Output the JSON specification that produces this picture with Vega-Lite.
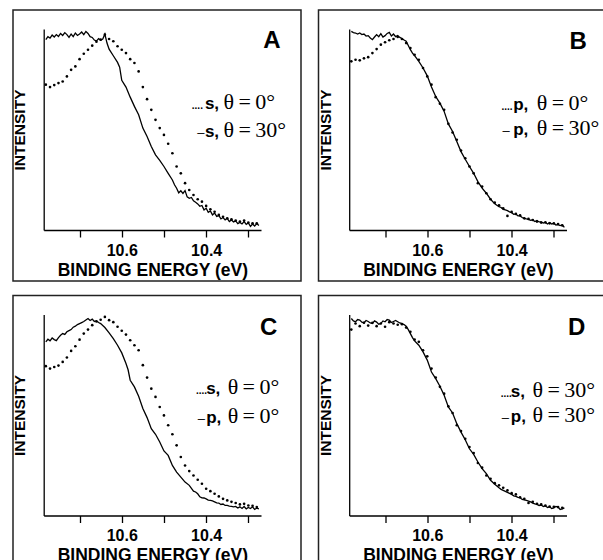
{
 "$schema": "https://vega.github.io/schema/vega-lite/v6.json",
 "padding": {"left": 11, "top": 9, "right": 0, "bottom": 0},
 "background": "white",
 "datasets": {
  "curves": [
   {"p":"A","s":"line","E":10.78,"I":0.947},{"p":"A","s":"line","E":10.775,"I":0.962},{"p":"A","s":"line","E":10.77,"I":0.955},{"p":"A","s":"line","E":10.765,"I":0.970},{"p":"A","s":"line","E":10.76,"I":0.960},{"p":"A","s":"line","E":10.755,"I":0.972},{"p":"A","s":"line","E":10.75,"I":0.963},{"p":"A","s":"line","E":10.745,"I":0.978},{"p":"A","s":"line","E":10.74,"I":0.968},{"p":"A","s":"line","E":10.735,"I":0.982},{"p":"A","s":"line","E":10.73,"I":0.972},{"p":"A","s":"line","E":10.725,"I":0.958},{"p":"A","s":"line","E":10.72,"I":0.975},{"p":"A","s":"line","E":10.715,"I":0.962},{"p":"A","s":"line","E":10.71,"I":0.980},{"p":"A","s":"line","E":10.705,"I":0.968},{"p":"A","s":"line","E":10.70,"I":0.975},{"p":"A","s":"line","E":10.695,"I":0.985},{"p":"A","s":"line","E":10.69,"I":0.972},{"p":"A","s":"line","E":10.685,"I":0.988},{"p":"A","s":"line","E":10.68,"I":0.978},{"p":"A","s":"line","E":10.675,"I":0.962},{"p":"A","s":"line","E":10.67,"I":0.958},{"p":"A","s":"line","E":10.665,"I":0.945},{"p":"A","s":"line","E":10.66,"I":0.940},{"p":"A","s":"line","E":10.655,"I":0.952},{"p":"A","s":"line","E":10.65,"I":0.944},{"p":"A","s":"line","E":10.645,"I":0.950},{"p":"A","s":"line","E":10.64,"I":0.975},{"p":"A","s":"line","E":10.635,"I":0.930},{"p":"A","s":"line","E":10.63,"I":0.900},{"p":"A","s":"line","E":10.62,"I":0.867},{"p":"A","s":"line","E":10.61,"I":0.834},{"p":"A","s":"line","E":10.605,"I":0.810},{"p":"A","s":"line","E":10.60,"I":0.745},{"p":"A","s":"line","E":10.59,"I":0.711},{"p":"A","s":"line","E":10.58,"I":0.661},{"p":"A","s":"line","E":10.57,"I":0.615},{"p":"A","s":"line","E":10.56,"I":0.573},{"p":"A","s":"line","E":10.55,"I":0.507},{"p":"A","s":"line","E":10.54,"I":0.465},{"p":"A","s":"line","E":10.53,"I":0.415},{"p":"A","s":"line","E":10.52,"I":0.374},{"p":"A","s":"line","E":10.51,"I":0.346},{"p":"A","s":"line","E":10.50,"I":0.316},{"p":"A","s":"line","E":10.49,"I":0.282},{"p":"A","s":"line","E":10.48,"I":0.249},{"p":"A","s":"line","E":10.475,"I":0.225},{"p":"A","s":"line","E":10.47,"I":0.208},{"p":"A","s":"line","E":10.465,"I":0.185},{"p":"A","s":"line","E":10.46,"I":0.195},{"p":"A","s":"line","E":10.455,"I":0.182},{"p":"A","s":"line","E":10.45,"I":0.196},{"p":"A","s":"line","E":10.445,"I":0.165},{"p":"A","s":"line","E":10.44,"I":0.158},{"p":"A","s":"line","E":10.435,"I":0.162},{"p":"A","s":"line","E":10.43,"I":0.145},{"p":"A","s":"line","E":10.425,"I":0.138},{"p":"A","s":"line","E":10.42,"I":0.130},{"p":"A","s":"line","E":10.415,"I":0.118},{"p":"A","s":"line","E":10.41,"I":0.122},{"p":"A","s":"line","E":10.405,"I":0.100},{"p":"A","s":"line","E":10.40,"I":0.108},{"p":"A","s":"line","E":10.395,"I":0.088},{"p":"A","s":"line","E":10.39,"I":0.095},{"p":"A","s":"line","E":10.385,"I":0.075},{"p":"A","s":"line","E":10.38,"I":0.085},{"p":"A","s":"line","E":10.375,"I":0.068},{"p":"A","s":"line","E":10.37,"I":0.072},{"p":"A","s":"line","E":10.365,"I":0.055},{"p":"A","s":"line","E":10.36,"I":0.062},{"p":"A","s":"line","E":10.355,"I":0.050},{"p":"A","s":"line","E":10.35,"I":0.058},{"p":"A","s":"line","E":10.345,"I":0.042},{"p":"A","s":"line","E":10.34,"I":0.050},{"p":"A","s":"line","E":10.335,"I":0.040},{"p":"A","s":"line","E":10.33,"I":0.045},{"p":"A","s":"line","E":10.325,"I":0.032},{"p":"A","s":"line","E":10.32,"I":0.038},{"p":"A","s":"line","E":10.315,"I":0.030},{"p":"A","s":"line","E":10.31,"I":0.042},{"p":"A","s":"line","E":10.305,"I":0.028},{"p":"A","s":"line","E":10.30,"I":0.035},{"p":"A","s":"line","E":10.295,"I":0.018},{"p":"A","s":"line","E":10.29,"I":0.030},{"p":"A","s":"line","E":10.285,"I":0.020},{"p":"A","s":"line","E":10.28,"I":0.032},{"p":"A","s":"line","E":10.275,"I":0.022},
   {"p":"A","s":"dot","E":10.78,"I":0.723},{"p":"A","s":"dot","E":10.77,"I":0.711},{"p":"A","s":"dot","E":10.76,"I":0.721},{"p":"A","s":"dot","E":10.75,"I":0.731},{"p":"A","s":"dot","E":10.74,"I":0.739},{"p":"A","s":"dot","E":10.73,"I":0.764},{"p":"A","s":"dot","E":10.72,"I":0.797},{"p":"A","s":"dot","E":10.71,"I":0.814},{"p":"A","s":"dot","E":10.70,"I":0.850},{"p":"A","s":"dot","E":10.69,"I":0.877},{"p":"A","s":"dot","E":10.68,"I":0.897},{"p":"A","s":"dot","E":10.67,"I":0.917},{"p":"A","s":"dot","E":10.66,"I":0.937},{"p":"A","s":"dot","E":10.65,"I":0.947},{"p":"A","s":"dot","E":10.64,"I":0.972},{"p":"A","s":"dot","E":10.63,"I":0.950},{"p":"A","s":"dot","E":10.62,"I":0.939},{"p":"A","s":"dot","E":10.61,"I":0.914},{"p":"A","s":"dot","E":10.60,"I":0.897},{"p":"A","s":"dot","E":10.59,"I":0.880},{"p":"A","s":"dot","E":10.58,"I":0.850},{"p":"A","s":"dot","E":10.57,"I":0.831},{"p":"A","s":"dot","E":10.56,"I":0.789},{"p":"A","s":"dot","E":10.55,"I":0.711},{"p":"A","s":"dot","E":10.54,"I":0.651},{"p":"A","s":"dot","E":10.53,"I":0.598},{"p":"A","s":"dot","E":10.52,"I":0.548},{"p":"A","s":"dot","E":10.51,"I":0.507},{"p":"A","s":"dot","E":10.50,"I":0.473},{"p":"A","s":"dot","E":10.49,"I":0.429},{"p":"A","s":"dot","E":10.48,"I":0.382},{"p":"A","s":"dot","E":10.47,"I":0.316},{"p":"A","s":"dot","E":10.46,"I":0.282},{"p":"A","s":"dot","E":10.45,"I":0.233},{"p":"A","s":"dot","E":10.44,"I":0.199},{"p":"A","s":"dot","E":10.43,"I":0.174},{"p":"A","s":"dot","E":10.42,"I":0.153},{"p":"A","s":"dot","E":10.41,"I":0.141},{"p":"A","s":"dot","E":10.40,"I":0.120},{"p":"A","s":"dot","E":10.39,"I":0.103},{"p":"A","s":"dot","E":10.38,"I":0.091},{"p":"A","s":"dot","E":10.37,"I":0.075},{"p":"A","s":"dot","E":10.36,"I":0.066},{"p":"A","s":"dot","E":10.35,"I":0.058},{"p":"A","s":"dot","E":10.34,"I":0.053},{"p":"A","s":"dot","E":10.33,"I":0.047},{"p":"A","s":"dot","E":10.32,"I":0.042},{"p":"A","s":"dot","E":10.31,"I":0.047},{"p":"A","s":"dot","E":10.30,"I":0.037},{"p":"A","s":"dot","E":10.29,"I":0.033},{"p":"A","s":"dot","E":10.28,"I":0.033},
   {"p":"B","s":"line","E":10.78,"I":0.988},{"p":"B","s":"line","E":10.775,"I":0.982},{"p":"B","s":"line","E":10.77,"I":0.980},{"p":"B","s":"line","E":10.765,"I":0.975},{"p":"B","s":"line","E":10.76,"I":0.980},{"p":"B","s":"line","E":10.755,"I":0.972},{"p":"B","s":"line","E":10.75,"I":0.975},{"p":"B","s":"line","E":10.745,"I":0.965},{"p":"B","s":"line","E":10.74,"I":0.967},{"p":"B","s":"line","E":10.735,"I":0.955},{"p":"B","s":"line","E":10.73,"I":0.947},{"p":"B","s":"line","E":10.725,"I":0.960},{"p":"B","s":"line","E":10.72,"I":0.972},{"p":"B","s":"line","E":10.715,"I":0.962},{"p":"B","s":"line","E":10.71,"I":0.977},{"p":"B","s":"line","E":10.705,"I":0.960},{"p":"B","s":"line","E":10.70,"I":0.967},{"p":"B","s":"line","E":10.695,"I":0.978},{"p":"B","s":"line","E":10.69,"I":0.983},{"p":"B","s":"line","E":10.685,"I":0.965},{"p":"B","s":"line","E":10.68,"I":0.975},{"p":"B","s":"line","E":10.675,"I":0.962},{"p":"B","s":"line","E":10.67,"I":0.967},{"p":"B","s":"line","E":10.665,"I":0.958},{"p":"B","s":"line","E":10.66,"I":0.953},{"p":"B","s":"line","E":10.655,"I":0.945},{"p":"B","s":"line","E":10.65,"I":0.939},{"p":"B","s":"line","E":10.645,"I":0.918},{"p":"B","s":"line","E":10.64,"I":0.897},{"p":"B","s":"line","E":10.635,"I":0.880},{"p":"B","s":"line","E":10.63,"I":0.867},{"p":"B","s":"line","E":10.62,"I":0.839},{"p":"B","s":"line","E":10.61,"I":0.806},{"p":"B","s":"line","E":10.60,"I":0.767},{"p":"B","s":"line","E":10.59,"I":0.711},{"p":"B","s":"line","E":10.58,"I":0.664},{"p":"B","s":"line","E":10.57,"I":0.631},{"p":"B","s":"line","E":10.56,"I":0.590},{"p":"B","s":"line","E":10.55,"I":0.528},{"p":"B","s":"line","E":10.54,"I":0.490},{"p":"B","s":"line","E":10.53,"I":0.440},{"p":"B","s":"line","E":10.52,"I":0.390},{"p":"B","s":"line","E":10.51,"I":0.352},{"p":"B","s":"line","E":10.50,"I":0.316},{"p":"B","s":"line","E":10.49,"I":0.282},{"p":"B","s":"line","E":10.48,"I":0.241},{"p":"B","s":"line","E":10.47,"I":0.208},{"p":"B","s":"line","E":10.46,"I":0.183},{"p":"B","s":"line","E":10.45,"I":0.153},{"p":"B","s":"line","E":10.44,"I":0.130},{"p":"B","s":"line","E":10.43,"I":0.116},{"p":"B","s":"line","E":10.425,"I":0.112},{"p":"B","s":"line","E":10.42,"I":0.103},{"p":"B","s":"line","E":10.415,"I":0.100},{"p":"B","s":"line","E":10.41,"I":0.096},{"p":"B","s":"line","E":10.405,"I":0.090},{"p":"B","s":"line","E":10.40,"I":0.086},{"p":"B","s":"line","E":10.395,"I":0.078},{"p":"B","s":"line","E":10.39,"I":0.080},{"p":"B","s":"line","E":10.385,"I":0.070},{"p":"B","s":"line","E":10.38,"I":0.070},{"p":"B","s":"line","E":10.375,"I":0.062},{"p":"B","s":"line","E":10.37,"I":0.058},{"p":"B","s":"line","E":10.365,"I":0.055},{"p":"B","s":"line","E":10.36,"I":0.053},{"p":"B","s":"line","E":10.355,"I":0.048},{"p":"B","s":"line","E":10.35,"I":0.050},{"p":"B","s":"line","E":10.345,"I":0.042},{"p":"B","s":"line","E":10.34,"I":0.047},{"p":"B","s":"line","E":10.335,"I":0.040},{"p":"B","s":"line","E":10.33,"I":0.040},{"p":"B","s":"line","E":10.325,"I":0.035},{"p":"B","s":"line","E":10.32,"I":0.038},{"p":"B","s":"line","E":10.315,"I":0.030},{"p":"B","s":"line","E":10.31,"I":0.037},{"p":"B","s":"line","E":10.305,"I":0.030},{"p":"B","s":"line","E":10.30,"I":0.033},{"p":"B","s":"line","E":10.295,"I":0.025},{"p":"B","s":"line","E":10.29,"I":0.027},{"p":"B","s":"line","E":10.285,"I":0.022},{"p":"B","s":"line","E":10.28,"I":0.025},{"p":"B","s":"line","E":10.275,"I":0.013},
   {"p":"B","s":"dot","E":10.78,"I":0.839},{"p":"B","s":"dot","E":10.77,"I":0.847},{"p":"B","s":"dot","E":10.76,"I":0.844},{"p":"B","s":"dot","E":10.75,"I":0.854},{"p":"B","s":"dot","E":10.74,"I":0.860},{"p":"B","s":"dot","E":10.73,"I":0.880},{"p":"B","s":"dot","E":10.72,"I":0.900},{"p":"B","s":"dot","E":10.71,"I":0.922},{"p":"B","s":"dot","E":10.70,"I":0.934},{"p":"B","s":"dot","E":10.69,"I":0.944},{"p":"B","s":"dot","E":10.68,"I":0.950},{"p":"B","s":"dot","E":10.67,"I":0.960},{"p":"B","s":"dot","E":10.66,"I":0.950},{"p":"B","s":"dot","E":10.65,"I":0.930},{"p":"B","s":"dot","E":10.64,"I":0.905},{"p":"B","s":"dot","E":10.63,"I":0.872},{"p":"B","s":"dot","E":10.62,"I":0.847},{"p":"B","s":"dot","E":10.61,"I":0.806},{"p":"B","s":"dot","E":10.60,"I":0.764},{"p":"B","s":"dot","E":10.59,"I":0.723},{"p":"B","s":"dot","E":10.58,"I":0.661},{"p":"B","s":"dot","E":10.57,"I":0.628},{"p":"B","s":"dot","E":10.56,"I":0.598},{"p":"B","s":"dot","E":10.55,"I":0.528},{"p":"B","s":"dot","E":10.54,"I":0.485},{"p":"B","s":"dot","E":10.53,"I":0.449},{"p":"B","s":"dot","E":10.52,"I":0.395},{"p":"B","s":"dot","E":10.51,"I":0.357},{"p":"B","s":"dot","E":10.50,"I":0.316},{"p":"B","s":"dot","E":10.49,"I":0.282},{"p":"B","s":"dot","E":10.48,"I":0.233},{"p":"B","s":"dot","E":10.47,"I":0.216},{"p":"B","s":"dot","E":10.46,"I":0.183},{"p":"B","s":"dot","E":10.45,"I":0.153},{"p":"B","s":"dot","E":10.44,"I":0.136},{"p":"B","s":"dot","E":10.43,"I":0.123},{"p":"B","s":"dot","E":10.42,"I":0.108},{"p":"B","s":"dot","E":10.41,"I":0.070},{"p":"B","s":"dot","E":10.40,"I":0.090},{"p":"B","s":"dot","E":10.39,"I":0.080},{"p":"B","s":"dot","E":10.38,"I":0.073},{"p":"B","s":"dot","E":10.37,"I":0.058},{"p":"B","s":"dot","E":10.36,"I":0.055},{"p":"B","s":"dot","E":10.35,"I":0.050},{"p":"B","s":"dot","E":10.34,"I":0.042},{"p":"B","s":"dot","E":10.33,"I":0.037},{"p":"B","s":"dot","E":10.32,"I":0.038},{"p":"B","s":"dot","E":10.31,"I":0.033},{"p":"B","s":"dot","E":10.30,"I":0.033},{"p":"B","s":"dot","E":10.29,"I":0.030},{"p":"B","s":"dot","E":10.28,"I":0.023},
   {"p":"C","s":"line","E":10.78,"I":0.864},{"p":"C","s":"line","E":10.775,"I":0.877},{"p":"C","s":"line","E":10.77,"I":0.869},{"p":"C","s":"line","E":10.765,"I":0.883},{"p":"C","s":"line","E":10.76,"I":0.875},{"p":"C","s":"line","E":10.755,"I":0.870},{"p":"C","s":"line","E":10.75,"I":0.885},{"p":"C","s":"line","E":10.745,"I":0.897},{"p":"C","s":"line","E":10.74,"I":0.905},{"p":"C","s":"line","E":10.735,"I":0.901},{"p":"C","s":"line","E":10.73,"I":0.914},{"p":"C","s":"line","E":10.725,"I":0.920},{"p":"C","s":"line","E":10.72,"I":0.925},{"p":"C","s":"line","E":10.715,"I":0.937},{"p":"C","s":"line","E":10.71,"I":0.942},{"p":"C","s":"line","E":10.705,"I":0.950},{"p":"C","s":"line","E":10.70,"I":0.955},{"p":"C","s":"line","E":10.695,"I":0.960},{"p":"C","s":"line","E":10.69,"I":0.965},{"p":"C","s":"line","E":10.685,"I":0.973},{"p":"C","s":"line","E":10.68,"I":0.980},{"p":"C","s":"line","E":10.675,"I":0.970},{"p":"C","s":"line","E":10.67,"I":0.977},{"p":"C","s":"line","E":10.665,"I":0.965},{"p":"C","s":"line","E":10.66,"I":0.969},{"p":"C","s":"line","E":10.655,"I":0.960},{"p":"C","s":"line","E":10.65,"I":0.955},{"p":"C","s":"line","E":10.64,"I":0.935},{"p":"C","s":"line","E":10.63,"I":0.909},{"p":"C","s":"line","E":10.62,"I":0.880},{"p":"C","s":"line","E":10.61,"I":0.847},{"p":"C","s":"line","E":10.60,"I":0.809},{"p":"C","s":"line","E":10.59,"I":0.756},{"p":"C","s":"line","E":10.585,"I":0.725},{"p":"C","s":"line","E":10.58,"I":0.673},{"p":"C","s":"line","E":10.57,"I":0.640},{"p":"C","s":"line","E":10.56,"I":0.593},{"p":"C","s":"line","E":10.55,"I":0.532},{"p":"C","s":"line","E":10.54,"I":0.487},{"p":"C","s":"line","E":10.53,"I":0.432},{"p":"C","s":"line","E":10.52,"I":0.404},{"p":"C","s":"line","E":10.51,"I":0.366},{"p":"C","s":"line","E":10.50,"I":0.321},{"p":"C","s":"line","E":10.49,"I":0.299},{"p":"C","s":"line","E":10.48,"I":0.249},{"p":"C","s":"line","E":10.47,"I":0.216},{"p":"C","s":"line","E":10.46,"I":0.191},{"p":"C","s":"line","E":10.45,"I":0.166},{"p":"C","s":"line","E":10.44,"I":0.150},{"p":"C","s":"line","E":10.43,"I":0.121},{"p":"C","s":"line","E":10.425,"I":0.117},{"p":"C","s":"line","E":10.42,"I":0.108},{"p":"C","s":"line","E":10.415,"I":0.093},{"p":"C","s":"line","E":10.41,"I":0.088},{"p":"C","s":"line","E":10.405,"I":0.087},{"p":"C","s":"line","E":10.40,"I":0.083},{"p":"C","s":"line","E":10.395,"I":0.077},{"p":"C","s":"line","E":10.39,"I":0.075},{"p":"C","s":"line","E":10.385,"I":0.073},{"p":"C","s":"line","E":10.38,"I":0.068},{"p":"C","s":"line","E":10.375,"I":0.063},{"p":"C","s":"line","E":10.37,"I":0.062},{"p":"C","s":"line","E":10.365,"I":0.055},{"p":"C","s":"line","E":10.36,"I":0.057},{"p":"C","s":"line","E":10.355,"I":0.050},{"p":"C","s":"line","E":10.35,"I":0.050},{"p":"C","s":"line","E":10.345,"I":0.047},{"p":"C","s":"line","E":10.34,"I":0.045},{"p":"C","s":"line","E":10.335,"I":0.043},{"p":"C","s":"line","E":10.33,"I":0.045},{"p":"C","s":"line","E":10.325,"I":0.037},{"p":"C","s":"line","E":10.32,"I":0.043},{"p":"C","s":"line","E":10.315,"I":0.035},{"p":"C","s":"line","E":10.31,"I":0.045},{"p":"C","s":"line","E":10.305,"I":0.033},{"p":"C","s":"line","E":10.30,"I":0.040},{"p":"C","s":"line","E":10.295,"I":0.035},{"p":"C","s":"line","E":10.29,"I":0.043},{"p":"C","s":"line","E":10.285,"I":0.030},{"p":"C","s":"line","E":10.28,"I":0.037},{"p":"C","s":"line","E":10.275,"I":0.033},
   {"p":"C","s":"dot","E":10.78,"I":0.743},{"p":"C","s":"dot","E":10.77,"I":0.731},{"p":"C","s":"dot","E":10.76,"I":0.739},{"p":"C","s":"dot","E":10.75,"I":0.746},{"p":"C","s":"dot","E":10.74,"I":0.764},{"p":"C","s":"dot","E":10.73,"I":0.786},{"p":"C","s":"dot","E":10.72,"I":0.819},{"p":"C","s":"dot","E":10.71,"I":0.842},{"p":"C","s":"dot","E":10.70,"I":0.875},{"p":"C","s":"dot","E":10.69,"I":0.905},{"p":"C","s":"dot","E":10.68,"I":0.925},{"p":"C","s":"dot","E":10.67,"I":0.947},{"p":"C","s":"dot","E":10.66,"I":0.965},{"p":"C","s":"dot","E":10.65,"I":0.974},{"p":"C","s":"dot","E":10.64,"I":0.988},{"p":"C","s":"dot","E":10.63,"I":0.972},{"p":"C","s":"dot","E":10.62,"I":0.962},{"p":"C","s":"dot","E":10.61,"I":0.939},{"p":"C","s":"dot","E":10.60,"I":0.919},{"p":"C","s":"dot","E":10.59,"I":0.900},{"p":"C","s":"dot","E":10.58,"I":0.872},{"p":"C","s":"dot","E":10.57,"I":0.847},{"p":"C","s":"dot","E":10.56,"I":0.822},{"p":"C","s":"dot","E":10.55,"I":0.748},{"p":"C","s":"dot","E":10.54,"I":0.686},{"p":"C","s":"dot","E":10.53,"I":0.631},{"p":"C","s":"dot","E":10.52,"I":0.590},{"p":"C","s":"dot","E":10.51,"I":0.540},{"p":"C","s":"dot","E":10.50,"I":0.498},{"p":"C","s":"dot","E":10.49,"I":0.449},{"p":"C","s":"dot","E":10.48,"I":0.404},{"p":"C","s":"dot","E":10.47,"I":0.349},{"p":"C","s":"dot","E":10.46,"I":0.291},{"p":"C","s":"dot","E":10.45,"I":0.249},{"p":"C","s":"dot","E":10.44,"I":0.221},{"p":"C","s":"dot","E":10.43,"I":0.199},{"p":"C","s":"dot","E":10.42,"I":0.178},{"p":"C","s":"dot","E":10.41,"I":0.158},{"p":"C","s":"dot","E":10.40,"I":0.133},{"p":"C","s":"dot","E":10.39,"I":0.121},{"p":"C","s":"dot","E":10.38,"I":0.108},{"p":"C","s":"dot","E":10.37,"I":0.095},{"p":"C","s":"dot","E":10.36,"I":0.083},{"p":"C","s":"dot","E":10.35,"I":0.075},{"p":"C","s":"dot","E":10.34,"I":0.068},{"p":"C","s":"dot","E":10.33,"I":0.062},{"p":"C","s":"dot","E":10.32,"I":0.055},{"p":"C","s":"dot","E":10.31,"I":0.058},{"p":"C","s":"dot","E":10.30,"I":0.050},{"p":"C","s":"dot","E":10.29,"I":0.048},{"p":"C","s":"dot","E":10.28,"I":0.042},
   {"p":"D","s":"line","E":10.78,"I":0.980},{"p":"D","s":"line","E":10.775,"I":0.968},{"p":"D","s":"line","E":10.77,"I":0.964},{"p":"D","s":"line","E":10.765,"I":0.975},{"p":"D","s":"line","E":10.76,"I":0.972},{"p":"D","s":"line","E":10.755,"I":0.962},{"p":"D","s":"line","E":10.75,"I":0.959},{"p":"D","s":"line","E":10.745,"I":0.970},{"p":"D","s":"line","E":10.74,"I":0.965},{"p":"D","s":"line","E":10.735,"I":0.958},{"p":"D","s":"line","E":10.73,"I":0.955},{"p":"D","s":"line","E":10.725,"I":0.968},{"p":"D","s":"line","E":10.72,"I":0.962},{"p":"D","s":"line","E":10.715,"I":0.952},{"p":"D","s":"line","E":10.71,"I":0.955},{"p":"D","s":"line","E":10.705,"I":0.968},{"p":"D","s":"line","E":10.70,"I":0.964},{"p":"D","s":"line","E":10.695,"I":0.975},{"p":"D","s":"line","E":10.69,"I":0.972},{"p":"D","s":"line","E":10.685,"I":0.960},{"p":"D","s":"line","E":10.68,"I":0.965},{"p":"D","s":"line","E":10.675,"I":0.970},{"p":"D","s":"line","E":10.67,"I":0.964},{"p":"D","s":"line","E":10.665,"I":0.958},{"p":"D","s":"line","E":10.66,"I":0.955},{"p":"D","s":"line","E":10.655,"I":0.950},{"p":"D","s":"line","E":10.65,"I":0.942},{"p":"D","s":"line","E":10.645,"I":0.925},{"p":"D","s":"line","E":10.64,"I":0.905},{"p":"D","s":"line","E":10.635,"I":0.885},{"p":"D","s":"line","E":10.63,"I":0.869},{"p":"D","s":"line","E":10.62,"I":0.847},{"p":"D","s":"line","E":10.61,"I":0.814},{"p":"D","s":"line","E":10.60,"I":0.773},{"p":"D","s":"line","E":10.59,"I":0.714},{"p":"D","s":"line","E":10.58,"I":0.681},{"p":"D","s":"line","E":10.57,"I":0.643},{"p":"D","s":"line","E":10.56,"I":0.598},{"p":"D","s":"line","E":10.55,"I":0.540},{"p":"D","s":"line","E":10.54,"I":0.510},{"p":"D","s":"line","E":10.53,"I":0.457},{"p":"D","s":"line","E":10.52,"I":0.415},{"p":"D","s":"line","E":10.51,"I":0.377},{"p":"D","s":"line","E":10.50,"I":0.332},{"p":"D","s":"line","E":10.49,"I":0.304},{"p":"D","s":"line","E":10.48,"I":0.266},{"p":"D","s":"line","E":10.47,"I":0.233},{"p":"D","s":"line","E":10.46,"I":0.208},{"p":"D","s":"line","E":10.45,"I":0.175},{"p":"D","s":"line","E":10.44,"I":0.155},{"p":"D","s":"line","E":10.43,"I":0.138},{"p":"D","s":"line","E":10.425,"I":0.130},{"p":"D","s":"line","E":10.42,"I":0.125},{"p":"D","s":"line","E":10.415,"I":0.120},{"p":"D","s":"line","E":10.41,"I":0.115},{"p":"D","s":"line","E":10.405,"I":0.110},{"p":"D","s":"line","E":10.40,"I":0.105},{"p":"D","s":"line","E":10.395,"I":0.098},{"p":"D","s":"line","E":10.39,"I":0.095},{"p":"D","s":"line","E":10.385,"I":0.090},{"p":"D","s":"line","E":10.38,"I":0.088},{"p":"D","s":"line","E":10.375,"I":0.080},{"p":"D","s":"line","E":10.37,"I":0.078},{"p":"D","s":"line","E":10.365,"I":0.075},{"p":"D","s":"line","E":10.36,"I":0.072},{"p":"D","s":"line","E":10.355,"I":0.068},{"p":"D","s":"line","E":10.35,"I":0.062},{"p":"D","s":"line","E":10.345,"I":0.058},{"p":"D","s":"line","E":10.34,"I":0.055},{"p":"D","s":"line","E":10.335,"I":0.050},{"p":"D","s":"line","E":10.33,"I":0.052},{"p":"D","s":"line","E":10.325,"I":0.045},{"p":"D","s":"line","E":10.32,"I":0.048},{"p":"D","s":"line","E":10.315,"I":0.040},{"p":"D","s":"line","E":10.31,"I":0.043},{"p":"D","s":"line","E":10.305,"I":0.035},{"p":"D","s":"line","E":10.30,"I":0.038},{"p":"D","s":"line","E":10.295,"I":0.045},{"p":"D","s":"line","E":10.29,"I":0.042},{"p":"D","s":"line","E":10.285,"I":0.030},{"p":"D","s":"line","E":10.28,"I":0.033},{"p":"D","s":"line","E":10.275,"I":0.038},
   {"p":"D","s":"dot","E":10.78,"I":0.925},{"p":"D","s":"dot","E":10.77,"I":0.955},{"p":"D","s":"dot","E":10.76,"I":0.942},{"p":"D","s":"dot","E":10.75,"I":0.959},{"p":"D","s":"dot","E":10.74,"I":0.945},{"p":"D","s":"dot","E":10.73,"I":0.959},{"p":"D","s":"dot","E":10.72,"I":0.942},{"p":"D","s":"dot","E":10.71,"I":0.955},{"p":"D","s":"dot","E":10.70,"I":0.939},{"p":"D","s":"dot","E":10.69,"I":0.962},{"p":"D","s":"dot","E":10.68,"I":0.955},{"p":"D","s":"dot","E":10.67,"I":0.949},{"p":"D","s":"dot","E":10.66,"I":0.952},{"p":"D","s":"dot","E":10.65,"I":0.935},{"p":"D","s":"dot","E":10.64,"I":0.914},{"p":"D","s":"dot","E":10.63,"I":0.875},{"p":"D","s":"dot","E":10.62,"I":0.864},{"p":"D","s":"dot","E":10.61,"I":0.822},{"p":"D","s":"dot","E":10.60,"I":0.792},{"p":"D","s":"dot","E":10.59,"I":0.731},{"p":"D","s":"dot","E":10.58,"I":0.686},{"p":"D","s":"dot","E":10.57,"I":0.640},{"p":"D","s":"dot","E":10.56,"I":0.606},{"p":"D","s":"dot","E":10.55,"I":0.543},{"p":"D","s":"dot","E":10.54,"I":0.510},{"p":"D","s":"dot","E":10.53,"I":0.449},{"p":"D","s":"dot","E":10.52,"I":0.420},{"p":"D","s":"dot","E":10.51,"I":0.382},{"p":"D","s":"dot","E":10.50,"I":0.341},{"p":"D","s":"dot","E":10.49,"I":0.311},{"p":"D","s":"dot","E":10.48,"I":0.261},{"p":"D","s":"dot","E":10.47,"I":0.238},{"p":"D","s":"dot","E":10.46,"I":0.199},{"p":"D","s":"dot","E":10.45,"I":0.183},{"p":"D","s":"dot","E":10.44,"I":0.161},{"p":"D","s":"dot","E":10.43,"I":0.150},{"p":"D","s":"dot","E":10.42,"I":0.138},{"p":"D","s":"dot","E":10.41,"I":0.125},{"p":"D","s":"dot","E":10.40,"I":0.111},{"p":"D","s":"dot","E":10.39,"I":0.105},{"p":"D","s":"dot","E":10.38,"I":0.091},{"p":"D","s":"dot","E":10.37,"I":0.083},{"p":"D","s":"dot","E":10.36,"I":0.062},{"p":"D","s":"dot","E":10.35,"I":0.068},{"p":"D","s":"dot","E":10.34,"I":0.058},{"p":"D","s":"dot","E":10.33,"I":0.055},{"p":"D","s":"dot","E":10.32,"I":0.050},{"p":"D","s":"dot","E":10.31,"I":0.045},{"p":"D","s":"dot","E":10.30,"I":0.043},{"p":"D","s":"dot","E":10.29,"I":0.042},{"p":"D","s":"dot","E":10.28,"I":0.038}
  ],
  "labels": [
   {"p":"A","part":"pre","E":10.434,"I":0.600,"t":"...."},{"p":"A","part":"dash","E":10.421,"I":0.464,"t":"–"},{"p":"A","part":"bold","E":10.403,"I":0.600,"t":"s,"},{"p":"A","part":"bold","E":10.403,"I":0.464,"t":"s,"},{"p":"A","part":"serif","E":10.359,"I":0.600,"t":"θ\u2009=\u20090°"},{"p":"A","part":"serif","E":10.359,"I":0.464,"t":"θ\u2009=\u200930°"},{"p":"A","part":"letter","E":10.2444,"I":0.907,"t":"A"},
   {"p":"B","part":"pre","E":10.424,"I":0.597,"t":"...."},{"p":"B","part":"dash","E":10.4216,"I":0.473,"t":"–"},{"p":"B","part":"bold","E":10.3963,"I":0.597,"t":"p,"},{"p":"B","part":"bold","E":10.3963,"I":0.473,"t":"p,"},{"p":"B","part":"serif","E":10.3403,"I":0.597,"t":"θ\u2009=\u20090°"},{"p":"B","part":"serif","E":10.3403,"I":0.473,"t":"θ\u2009=\u200930°"},{"p":"B","part":"letter","E":10.2423,"I":0.899,"t":"B"},
   {"p":"C","part":"pre","E":10.424,"I":0.605,"t":"...."},{"p":"C","part":"dash","E":10.420,"I":0.458,"t":"–"},{"p":"C","part":"bold","E":10.400,"I":0.605,"t":"s,"},{"p":"C","part":"bold","E":10.400,"I":0.458,"t":"p,"},{"p":"C","part":"serif","E":10.349,"I":0.605,"t":"θ\u2009=\u20090°"},{"p":"C","part":"serif","E":10.349,"I":0.458,"t":"θ\u2009=\u20090°"},{"p":"C","part":"letter","E":10.252,"I":0.896,"t":"C"},
   {"p":"D","part":"pre","E":10.426,"I":0.589,"t":"...."},{"p":"D","part":"dash","E":10.4233,"I":0.464,"t":"–"},{"p":"D","part":"bold","E":10.402,"I":0.589,"t":"s,"},{"p":"D","part":"bold","E":10.402,"I":0.464,"t":"p,"},{"p":"D","part":"serif","E":10.3506,"I":0.589,"t":"θ\u2009=\u200930°"},{"p":"D","part":"serif","E":10.3506,"I":0.464,"t":"θ\u2009=\u200930°"},{"p":"D","part":"letter","E":10.2461,"I":0.900,"t":"D"}
  ]
 },
 "vconcat": [
  {"spacing": 14.5, "hconcat": [
   {"width": 288, "height": 271,
    "encoding": {
     "x": {"field":"E","type":"quantitative","scale":{"domain":[10.785,10.27],"range":[30.7,248],"nice":false,"zero":false},"axis":{"values":[10.7,10.6,10.5,10.4,10.3],"labelExpr":"abs(datum.value-10.6)<0.001 || abs(datum.value-10.4)<0.001 ? format(datum.value,'.1f') : ''","title":"BINDING ENERGY (eV)","offset":-51}},
     "y": {"field":"I","type":"quantitative","scale":{"domain":[0,1],"range":[220,19],"nice":false,"zero":false},"axis":{"title":"INTENSITY","offset":-30.7,"ticks":false,"labels":false}}
    },
    "layer": [
     {"data":{"name":"curves"},"transform":[{"filter":"datum.p==='A' && datum.s==='line'"}],"mark":{"type":"line","color":"black","strokeWidth":1.3}},
     {"data":{"name":"curves"},"transform":[{"filter":"datum.p==='A' && datum.s==='dot'"}],"mark":{"type":"circle","size":7,"color":"black","opacity":1}},
     {"data":{"name":"labels"},"transform":[{"filter":"datum.p==='A' && datum.part==='pre'"}],"mark":{"type":"text","font":"Liberation Sans","fontWeight":"bold","fontSize":10,"align":"left","baseline":"alphabetic","color":"black"},"encoding":{"text":{"field":"t"}}},
     {"data":{"name":"labels"},"transform":[{"filter":"datum.p==='A' && datum.part==='dash'"}],"mark":{"type":"text","font":"Liberation Sans","fontSize":13,"align":"left","baseline":"alphabetic","color":"black"},"encoding":{"text":{"field":"t"}}},
     {"data":{"name":"labels"},"transform":[{"filter":"datum.p==='A' && datum.part==='bold'"}],"mark":{"type":"text","font":"Liberation Sans","fontWeight":"bold","fontSize":17,"align":"left","baseline":"alphabetic","color":"black"},"encoding":{"text":{"field":"t"}}},
     {"data":{"name":"labels"},"transform":[{"filter":"datum.p==='A' && datum.part==='serif'"}],"mark":{"type":"text","font":"Liberation Serif","fontSize":22,"align":"left","baseline":"alphabetic","color":"black"},"encoding":{"text":{"field":"t"}}},
     {"data":{"name":"labels"},"transform":[{"filter":"datum.p==='A' && datum.part==='letter'"}],"mark":{"type":"text","font":"Liberation Sans","fontWeight":"bold","fontSize":24,"align":"center","baseline":"alphabetic","color":"black"},"encoding":{"text":{"field":"t"}}}
    ]
   },
   {"width": 288, "height": 271,
    "encoding": {
     "x": {"field":"E","type":"quantitative","scale":{"domain":[10.785,10.27],"range":[30.7,248],"nice":false,"zero":false},"axis":{"values":[10.7,10.6,10.5,10.4,10.3],"labelExpr":"abs(datum.value-10.6)<0.001 || abs(datum.value-10.4)<0.001 ? format(datum.value,'.1f') : ''","title":"BINDING ENERGY (eV)","offset":-51}},
     "y": {"field":"I","type":"quantitative","scale":{"domain":[0,1],"range":[220,19],"nice":false,"zero":false},"axis":{"title":"INTENSITY","offset":-30.7,"ticks":false,"labels":false}}
    },
    "layer": [
     {"data":{"name":"curves"},"transform":[{"filter":"datum.p==='B' && datum.s==='line'"}],"mark":{"type":"line","color":"black","strokeWidth":1.3}},
     {"data":{"name":"curves"},"transform":[{"filter":"datum.p==='B' && datum.s==='dot'"}],"mark":{"type":"circle","size":7,"color":"black","opacity":1}},
     {"data":{"name":"labels"},"transform":[{"filter":"datum.p==='B' && datum.part==='pre'"}],"mark":{"type":"text","font":"Liberation Sans","fontWeight":"bold","fontSize":10,"align":"left","baseline":"alphabetic","color":"black"},"encoding":{"text":{"field":"t"}}},
     {"data":{"name":"labels"},"transform":[{"filter":"datum.p==='B' && datum.part==='dash'"}],"mark":{"type":"text","font":"Liberation Sans","fontSize":13,"align":"left","baseline":"alphabetic","color":"black"},"encoding":{"text":{"field":"t"}}},
     {"data":{"name":"labels"},"transform":[{"filter":"datum.p==='B' && datum.part==='bold'"}],"mark":{"type":"text","font":"Liberation Sans","fontWeight":"bold","fontSize":17,"align":"left","baseline":"alphabetic","color":"black"},"encoding":{"text":{"field":"t"}}},
     {"data":{"name":"labels"},"transform":[{"filter":"datum.p==='B' && datum.part==='serif'"}],"mark":{"type":"text","font":"Liberation Serif","fontSize":22,"align":"left","baseline":"alphabetic","color":"black"},"encoding":{"text":{"field":"t"}}},
     {"data":{"name":"labels"},"transform":[{"filter":"datum.p==='B' && datum.part==='letter'"}],"mark":{"type":"text","font":"Liberation Sans","fontWeight":"bold","fontSize":24,"align":"center","baseline":"alphabetic","color":"black"},"encoding":{"text":{"field":"t"}}}
    ]
   }
  ]},
  {"spacing": 14.5, "hconcat": [
   {"width": 288, "height": 271,
    "encoding": {
     "x": {"field":"E","type":"quantitative","scale":{"domain":[10.785,10.27],"range":[30.7,248],"nice":false,"zero":false},"axis":{"values":[10.7,10.6,10.5,10.4,10.3],"labelExpr":"abs(datum.value-10.6)<0.001 || abs(datum.value-10.4)<0.001 ? format(datum.value,'.1f') : ''","title":"BINDING ENERGY (eV)","offset":-51}},
     "y": {"field":"I","type":"quantitative","scale":{"domain":[0,1],"range":[220,19],"nice":false,"zero":false},"axis":{"title":"INTENSITY","offset":-30.7,"ticks":false,"labels":false}}
    },
    "layer": [
     {"data":{"name":"curves"},"transform":[{"filter":"datum.p==='C' && datum.s==='line'"}],"mark":{"type":"line","color":"black","strokeWidth":1.3}},
     {"data":{"name":"curves"},"transform":[{"filter":"datum.p==='C' && datum.s==='dot'"}],"mark":{"type":"circle","size":7,"color":"black","opacity":1}},
     {"data":{"name":"labels"},"transform":[{"filter":"datum.p==='C' && datum.part==='pre'"}],"mark":{"type":"text","font":"Liberation Sans","fontWeight":"bold","fontSize":10,"align":"left","baseline":"alphabetic","color":"black"},"encoding":{"text":{"field":"t"}}},
     {"data":{"name":"labels"},"transform":[{"filter":"datum.p==='C' && datum.part==='dash'"}],"mark":{"type":"text","font":"Liberation Sans","fontSize":13,"align":"left","baseline":"alphabetic","color":"black"},"encoding":{"text":{"field":"t"}}},
     {"data":{"name":"labels"},"transform":[{"filter":"datum.p==='C' && datum.part==='bold'"}],"mark":{"type":"text","font":"Liberation Sans","fontWeight":"bold","fontSize":17,"align":"left","baseline":"alphabetic","color":"black"},"encoding":{"text":{"field":"t"}}},
     {"data":{"name":"labels"},"transform":[{"filter":"datum.p==='C' && datum.part==='serif'"}],"mark":{"type":"text","font":"Liberation Serif","fontSize":22,"align":"left","baseline":"alphabetic","color":"black"},"encoding":{"text":{"field":"t"}}},
     {"data":{"name":"labels"},"transform":[{"filter":"datum.p==='C' && datum.part==='letter'"}],"mark":{"type":"text","font":"Liberation Sans","fontWeight":"bold","fontSize":24,"align":"center","baseline":"alphabetic","color":"black"},"encoding":{"text":{"field":"t"}}}
    ]
   },
   {"width": 288, "height": 271,
    "encoding": {
     "x": {"field":"E","type":"quantitative","scale":{"domain":[10.785,10.27],"range":[30.7,248],"nice":false,"zero":false},"axis":{"values":[10.7,10.6,10.5,10.4,10.3],"labelExpr":"abs(datum.value-10.6)<0.001 || abs(datum.value-10.4)<0.001 ? format(datum.value,'.1f') : ''","title":"BINDING ENERGY (eV)","offset":-51}},
     "y": {"field":"I","type":"quantitative","scale":{"domain":[0,1],"range":[220,19],"nice":false,"zero":false},"axis":{"title":"INTENSITY","offset":-30.7,"ticks":false,"labels":false}}
    },
    "layer": [
     {"data":{"name":"curves"},"transform":[{"filter":"datum.p==='D' && datum.s==='line'"}],"mark":{"type":"line","color":"black","strokeWidth":1.3}},
     {"data":{"name":"curves"},"transform":[{"filter":"datum.p==='D' && datum.s==='dot'"}],"mark":{"type":"circle","size":7,"color":"black","opacity":1}},
     {"data":{"name":"labels"},"transform":[{"filter":"datum.p==='D' && datum.part==='pre'"}],"mark":{"type":"text","font":"Liberation Sans","fontWeight":"bold","fontSize":10,"align":"left","baseline":"alphabetic","color":"black"},"encoding":{"text":{"field":"t"}}},
     {"data":{"name":"labels"},"transform":[{"filter":"datum.p==='D' && datum.part==='dash'"}],"mark":{"type":"text","font":"Liberation Sans","fontSize":13,"align":"left","baseline":"alphabetic","color":"black"},"encoding":{"text":{"field":"t"}}},
     {"data":{"name":"labels"},"transform":[{"filter":"datum.p==='D' && datum.part==='bold'"}],"mark":{"type":"text","font":"Liberation Sans","fontWeight":"bold","fontSize":17,"align":"left","baseline":"alphabetic","color":"black"},"encoding":{"text":{"field":"t"}}},
     {"data":{"name":"labels"},"transform":[{"filter":"datum.p==='D' && datum.part==='serif'"}],"mark":{"type":"text","font":"Liberation Serif","fontSize":22,"align":"left","baseline":"alphabetic","color":"black"},"encoding":{"text":{"field":"t"}}},
     {"data":{"name":"labels"},"transform":[{"filter":"datum.p==='D' && datum.part==='letter'"}],"mark":{"type":"text","font":"Liberation Sans","fontWeight":"bold","fontSize":24,"align":"center","baseline":"alphabetic","color":"black"},"encoding":{"text":{"field":"t"}}}
    ]
   }
  ]}
 ],
 "spacing": 12.5,
 "config": {
  "view": {"stroke": "#222222", "strokeWidth": 1.5},
  "axis": {"domainColor": "black", "domainWidth": 1.3, "tickColor": "black", "tickWidth": 1.3, "grid": false, "labelFont": "Liberation Sans", "labelFontWeight": "bold", "labelFontSize": 16, "labelColor": "black", "titleFont": "Liberation Sans", "titleFontWeight": "bold", "titleColor": "black"},
  "axisX": {"tickSize": 7, "labelPadding": 5, "titleFontSize": 17.5, "titlePadding": 3, "labelFlush": false, "labelOverlap": false},
  "axisY": {"titleFontSize": 15.5, "titlePadding": 16}
 }
}
